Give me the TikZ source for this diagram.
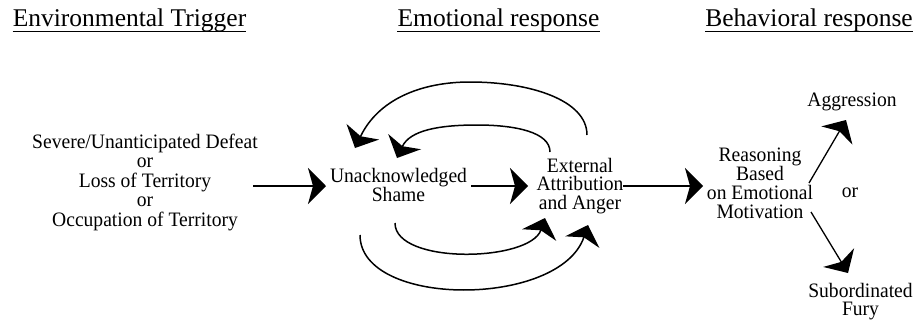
\documentclass[tikz,border=0pt]{standalone}
\usepackage{fontspec}
\setmainfont{Liberation Serif}
\newfontfamily\bodyfont{Liberation Serif}[FakeStretch=0.955]
\usetikzlibrary{arrows.meta}
\newcommand\mytightlines{\lineskiplimit=-100pt\relax\lineskip=0pt\relax}
\begin{document}
\begin{tikzpicture}[x=1pt,y=1pt,
  head/.style={inner sep=0pt, anchor=base, font=\fontsize{25.5}{30}\selectfont},
  body/.style={inner sep=0pt, anchor=center, align=center,
    font=\bodyfont\fontsize{20.5}{#1}\selectfont\mytightlines},
  body/.default=19,
  uline/.style={line width=0.9pt},
  bigtip/.style={-{Stealth[length=18pt,width=36pt,inset=5pt]}},
  mainarr/.style={bigtip, line width=2pt},
  looparr/.style={bigtip, line width=1.5pt},
  diagarr/.style={bigtip, line width=1.3pt}
]
\useasboundingbox (0,0) rectangle (917,-322);
% headers
\node[head] (h1) at (129.5,-26) {Environmental Trigger};
\node[head] (h2) at (498.5,-26) {Emotional response};
\node[head] (h3) at (809,-26) {Behavioral response};
\foreach \h in {h1,h2,h3}{
  \draw[uline] ([yshift=-5pt]\h.base west) -- ([yshift=-5pt]\h.base east);
}
% nodes
\node[body=19.5] (trig) at (145,-182.2) {Severe/Unanticipated Defeat\\or\\Loss of Territory\\or\\Occupation of Territory};
\node[body=18.5] (shame) at (398.5,-184.8) {Unacknowledged\\Shame};
\node[body=18.5] (ext) at (580,-185.7) {External\\Attribution\\and Anger};
\node[body=19] (reas) at (760,-183.5) {Reasoning\\Based\\on Emotional\\Motivation};
\node[body] (aggr) at (852,-102) {Aggression};
\node[body] (orr) at (850,-192.5) {or};
\node[body=18.5] (sub) at (860.5,-301.5) {Subordinated\\Fury};
% main arrows
\draw[mainarr] ([shift={(108,-3.8)}]trig.center) -- ([shift={(-72.5,-1.2)}]shame.center);
\draw[mainarr] ([shift={(72.5,-1.2)}]shame.center) -- ([shift={(-52,-0.3)}]ext.center);
\draw[mainarr] ([shift={(43,-0.3)}]ext.center) -- ([shift={(-57,-2.5)}]reas.center);
% diagonal arrows
\draw[diagarr] ([shift={(49,0.5)}]reas.center) -- ([shift={(-6,-18)}]aggr.center);
\draw[diagarr] ([shift={(51,-28.5)}]reas.center) -- ([shift={(-12.5,28.5)}]sub.center);
% feedback loops
\draw[looparr] ([shift={(7,50.7)}]ext.center) .. controls +(0,35) and +(60,0) .. ++(-117,53)
  .. controls +(-50,0) and +(23,48) .. ([shift={(-43.5,36.8)}]shame.center);
\draw[looparr] ([shift={(-30,33.7)}]ext.center) .. controls +(0,20) and +(38,0) .. ++(-73,27)
  .. controls +(-37,0) and +(13,28) .. ([shift={(-1.5,26.8)}]shame.center);
\draw[looparr] ([shift={(-3.5,-38.2)}]shame.center) .. controls +(0,-42) and +(-15,-44) .. ([shift={(-35,-32.3)}]ext.center);
\draw[looparr] ([shift={(-38.5,-50.2)}]shame.center) .. controls +(0,-73) and +(-28,-83) .. ([shift={(8,-39.3)}]ext.center);
\end{tikzpicture}
\end{document}
